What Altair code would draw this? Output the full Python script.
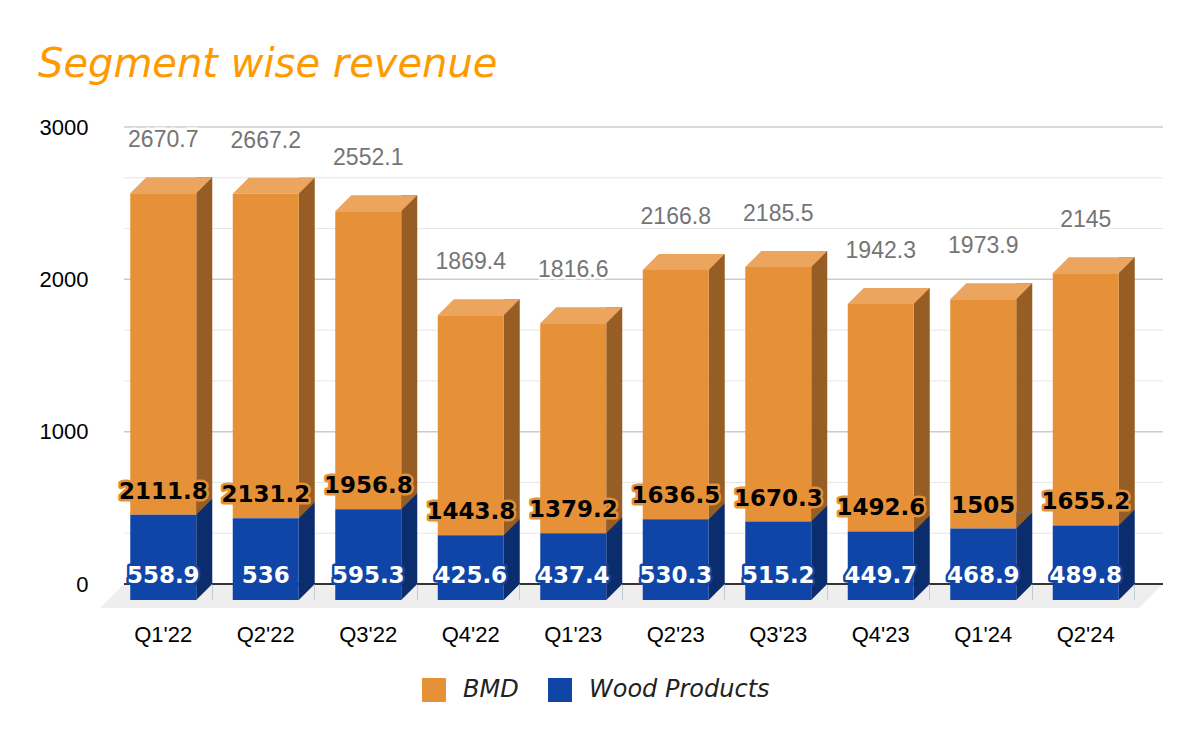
import altair as alt
import pandas as pd

# ---------------- data ----------------
quarters = ["Q1'22", "Q2'22", "Q3'22", "Q4'22", "Q1'23", "Q2'23", "Q3'23", "Q4'23", "Q1'24", "Q2'24"]
bmd = [2111.8, 2131.2, 1956.8, 1443.8, 1379.2, 1636.5, 1670.3, 1492.6, 1505, 1655.2]
wood = [558.9, 536, 595.3, 425.6, 437.4, 530.3, 515.2, 449.7, 468.9, 489.8]
series = ["BMD", "Wood Products"]
y_ticks = [0, 1000, 2000, 3000]

# ---------------- style ----------------
W, H = 1039, 457
D = 16            # 3D depth in px
BW = 66           # front face width
ORANGE, ORANGE_TOP, ORANGE_SIDE = "#e69138", "#eba55f", "#965e25"
BLUE, BLUE_SIDE = "#1045a8", "#0b2d6d"
FLOOR = "#eeeeee"


def fmt(v):
    return f"{v:g}"


df = pd.DataFrame({"q": quarters, "bmd": bmd, "wood": wood})
df["total"] = (df["bmd"] + df["wood"]).round(1)
df["total_lbl"] = df["total"].map(fmt)
df["bmd_lbl"] = df["bmd"].map(fmt)
df["wood_lbl"] = df["wood"].map(fmt)

long_rows = []
for q, b, w in zip(quarters, bmd, wood):
    long_rows.append({"q": q, "series": series[0], "start": w, "end": round(b + w, 1)})
    long_rows.append({"q": q, "series": series[1], "start": 0, "end": w})
long = pd.DataFrame(long_rows)

minor = []
for a, b in zip(y_ticks[:-1], y_ticks[1:]):
    minor += [a + (b - a) / 3, a + 2 * (b - a) / 3]
grid_minor = pd.DataFrame({"v": minor})
grid_major = pd.DataFrame({"v": y_ticks[1:]})
one = pd.DataFrame({"k": [0]})

XS = alt.Scale(domain=quarters, range=[-12, 1013], paddingInner=0, paddingOuter=0)
XAX = alt.Axis(title=None, domain=False, ticks=False, grid=False, labelAngle=0,
               labelFont="Liberation Sans", labelFontSize=22, labelColor="#000000",
               labelPadding=40)
YS = alt.Scale(domain=[0, 3000], nice=False, zero=True)
YAX = alt.Axis(title=None, values=y_ticks, format="d", domain=False, ticks=False, grid=False,
               labelFont="Liberation Sans", labelFontSize=22, labelColor="#000000",
               labelPadding=36)


def X():
    return alt.X("q:N", scale=XS, axis=XAX, sort=quarters)


def Y(field):
    return alt.Y(field, scale=YS, axis=YAX, stack=None)


def Y0():
    return alt.Y(datum=0, scale=YS, axis=YAX)


def poly(points, r):
    pts = [(x / r, y / r) for x, y in points]
    return "M" + "L".join(f"{x:.4f},{y:.4f}" for x, y in pts) + "Z"


# shapes (centered, unit = sqrt(size)/2)
tri_r = D / 2
junction_path = poly([(-tri_r, -tri_r), (tri_r, -tri_r), (-tri_r, tri_r)], tri_r)
bottom_path = poly([(tri_r, -tri_r), (tri_r, tri_r), (-tri_r, tri_r)], tri_r)
hx, hy = (BW + D) / 2, D / 2
top_path = poly([(-hx, hy), (hx - D, hy), (hx, -hy), (-hx + D, -hy)], hx)
FD = 24
fl_l, fl_r = -FD, W
fl_c = (fl_l + fl_r) / 2
fl_hx = (fl_r - fl_l) / 2
floor_path = poly([(0 - fl_c, -FD / 2), (W - fl_c, -FD / 2), (W - FD - fl_c, FD / 2), (-FD - fl_c, FD / 2)], fl_hx)

base = alt.Chart(df)

minor_rules = alt.Chart(grid_minor).mark_rule(color="#e6e6e6", strokeWidth=1).encode(
    y=Y("v:Q"), x=alt.value(0), x2=alt.value(W))
major_rules = alt.Chart(grid_major).mark_rule(color="#cccccc", strokeWidth=1.5).encode(
    y=Y("v:Q"), x=alt.value(0), x2=alt.value(W))

floor = alt.Chart(one).mark_point(shape=floor_path, size=(2 * fl_hx) ** 2, filled=True,
                                  color=FLOOR, opacity=1, yOffset=FD / 2).encode(
    x=alt.value(fl_c), y=Y0())

axis_line = alt.Chart(one).mark_rule(color="#333333", strokeWidth=2).encode(
    y=Y0(), x=alt.value(0), x2=alt.value(W))

side_off = BW / 2 + D / 2
bmd_side = base.mark_bar(width=D, xOffset=side_off, color=ORANGE_SIDE).encode(
    x=X(), y=Y("total:Q"), y2="wood:Q")
wood_side = base.mark_bar(width=D, xOffset=side_off, y2Offset=D, color=BLUE_SIDE).encode(
    x=X(), y=Y("wood:Q"), y2=alt.Y2(datum=0))
junction = base.mark_point(shape=junction_path, size=D * D, filled=True, opacity=1,
                           color=ORANGE_SIDE, xOffset=side_off, yOffset=D / 2).encode(
    x=X(), y=Y("wood:Q"))
bottom_tri = base.mark_point(shape=bottom_path, size=D * D, filled=True, opacity=1,
                             color=FLOOR, xOffset=side_off, yOffset=D / 2).encode(
    x=X(), y=Y0())
top_face = base.mark_point(shape=top_path, size=(2 * hx) ** 2, filled=True, opacity=1,
                           color=ORANGE_TOP, xOffset=D / 2, yOffset=D / 2).encode(
    x=X(), y=Y("total:Q"))

front = alt.Chart(long).mark_bar(width=BW, yOffset=D, y2Offset=D).encode(
    x=X(), y=Y("end:Q"), y2="start:Q",
    color=alt.Color("series:N", scale=alt.Scale(domain=series, range=[ORANGE, BLUE]),
                    legend=alt.Legend(orient="none", legendX=298, legendY=551,
                                      direction="horizontal", title=None,
                                      symbolType="square", symbolSize=576,
                                      symbolStrokeWidth=0, symbolOpacity=1,
                                      labelFont="DejaVu Sans", labelFontStyle="italic",
                                      labelFontSize=24, labelColor="#222222",
                                      labelLimit=400,
                                      labelOffset=17, columnPadding=29, padding=0)))

tot_style = dict(font="Liberation Sans", fontSize=23, baseline="middle", dy=-37)
tot_halo = base.mark_text(**tot_style, stroke="white", strokeWidth=5, fill="white",
                          strokeJoin="round").encode(x=X(), y=Y("total:Q"), text="total_lbl:N")
tot_text = base.mark_text(**tot_style, fill="#757575").encode(
    x=X(), y=Y("total:Q"), text="total_lbl:N")

lbl_style = dict(font="DejaVu Sans", fontWeight="bold", fontSize=23, baseline="middle")
bmd_halo = base.mark_text(**lbl_style, dy=D - 23, stroke=ORANGE, strokeWidth=5, fill=ORANGE,
                          strokeJoin="round").encode(x=X(), y=Y("wood:Q"), text="bmd_lbl:N")
bmd_text = base.mark_text(**lbl_style, dy=D - 23, fill="#000000").encode(
    x=X(), y=Y("wood:Q"), text="bmd_lbl:N")
wood_halo = base.mark_text(**lbl_style, dy=D - 24, stroke=BLUE, strokeWidth=5, fill=BLUE,
                           strokeJoin="round").encode(x=X(), y=Y0(), text="wood_lbl:N")
wood_text = base.mark_text(**lbl_style, dy=D - 24, fill="#ffffff").encode(
    x=X(), y=Y0(), text="wood_lbl:N")

chart = alt.layer(
    minor_rules, major_rules, floor, axis_line,
    bmd_side, wood_side, junction, bottom_tri, top_face, front,
    tot_halo, tot_text, bmd_halo, bmd_text, wood_halo, wood_text,
).properties(
    width=W, height=H,
    padding={"left": 116, "top": 119, "right": 29, "bottom": 140},
    autosize=alt.AutoSizeParams(type="none"),
    title=alt.Title("Segment wise revenue", font="DejaVu Sans", fontSize=40,
                    fontStyle="italic", fontWeight="normal", color="#ff9900",
                    anchor="start", frame="group", dx=-86, baseline="alphabetic", offset=0, dy=1),
).configure_view(stroke=None)

chart.save("out.html", embed_options={"renderer": "svg", "actions": False})
